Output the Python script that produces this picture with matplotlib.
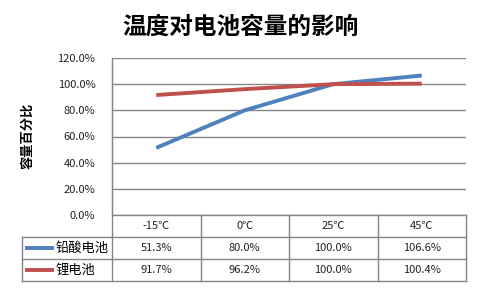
import matplotlib.pyplot as plt
from matplotlib.transforms import blended_transform_factory

plt.rcParams['font.family'] = ['Noto Sans CJK SC', 'DejaVu Sans']

categories = ["-15℃", "0℃", "25℃", "45℃"]
series_names = ["铅酸电池", "锂电池"]
lead_acid = [51.3, 80.0, 100.0, 106.6]
lithium = [91.7, 96.2, 100.0, 100.4]
series_values = [lead_acid, lithium]
colors = ["#4F81BD", "#C0504D"]
grid_c = "#868686"

W, H = 480, 288
fig = plt.figure(figsize=(4.8, 2.88), dpi=100)
# plot area in pixels: x 112..466, y 58..215
ax = fig.add_axes([112 / W, 1 - 215 / H, (466 - 112) / W, (215 - 58) / H])

x = list(range(len(categories)))
for vals, c in zip(series_values, colors):
    ax.plot(x, vals, color=c, lw=2.8, solid_capstyle="butt", clip_on=False, zorder=3)

ax.set_xlim(-0.5, len(categories) - 0.5)
ax.set_ylim(0, 120)
ax.set_yticks(range(0, 121, 20))
ax.set_yticklabels([f"{v:.1f}%" for v in range(0, 121, 20)], fontsize=8, color="#222222")
ax.yaxis.grid(True, color=grid_c, lw=1)
ax.set_axisbelow(True)
ax.tick_params(axis="y", length=0, pad=12)
ax.set_xticks([])
for s in ["top", "right", "bottom"]:
    ax.spines[s].set_visible(False)
ax.spines["left"].set_color(grid_c)

fig.text(27 / W, 1 - 136 / H, "容量百分比", rotation=90, ha="center", va="center",
         fontsize=9.5, fontweight="bold")
fig.text(240 / W, 1 - 27 / H, "温度对电池容量的影响", ha="center", va="center",
         fontsize=17, fontweight="bold")

# data table under the plot
ph = 215 - 58
def ay(py):
    return (215 - py) / ph
def ax_x(px):
    return (px - 112) / (466 - 112)

row_y = [215, 237, 259, 281]
bt = blended_transform_factory(ax.transData, ax.transAxes)
lk = dict(color=grid_c, lw=1, transform=ax.transAxes, clip_on=False)

# horizontal lines
ax.plot([0, 1], [ay(215), ay(215)], **lk)
for py in row_y[1:]:
    ax.plot([ax_x(22), 1], [ay(py), ay(py)], **lk)
# vertical lines
ax.plot([0, 0], [1, ay(281)], **lk)
for i in range(1, len(categories) + 1):
    xa = i / len(categories)
    ax.plot([xa, xa], [ay(215), ay(281)], **lk)
ax.plot([ax_x(22), ax_x(22)], [ay(237), ay(281)], **lk)

for i, cat in enumerate(categories):
    ax.text(i, ay(226), cat, transform=bt, ha="center", va="center", fontsize=8,
            color="#222222", clip_on=False)

for r, (name, vals, c) in enumerate(zip(series_names, series_values, colors)):
    yc = ay((row_y[r + 1] + row_y[r + 2]) / 2)
    ax.plot([ax_x(25), ax_x(54)], [yc, yc], color=c, lw=2.8, transform=ax.transAxes,
            clip_on=False, solid_capstyle="butt")
    ax.text(ax_x(56), yc, name, transform=ax.transAxes, ha="left", va="center",
            fontsize=9.5, clip_on=False)
    for i, v in enumerate(vals):
        ax.text(i, yc, f"{v:.1f}%", transform=bt, ha="center", va="center",
                fontsize=8, color="#222222", clip_on=False)

fig.savefig("out.png", dpi=100)
